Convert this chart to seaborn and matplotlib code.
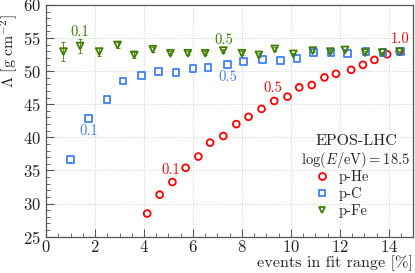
# Lambda vs fraction of events in fit range (EPOS-LHC, log(E/eV)=18.5)
import numpy as np
import pandas as pd
import matplotlib
matplotlib.use("Agg")
import matplotlib.pyplot as plt
from matplotlib.ticker import MultipleLocator
from matplotlib.lines import Line2D
import seaborn as sns

# dados
x_he = [4.13, 4.64, 5.16, 5.70, 6.22, 6.70, 7.24, 7.77, 8.27, 8.80, 9.32, 9.86,
        10.34, 10.85, 11.37, 11.84, 12.46, 12.94, 13.41, 13.93, 14.44]
y_he = [28.5, 31.35, 33.25, 35.4, 37.1, 39.2, 40.2, 42.0, 43.1, 44.3, 45.5, 46.15,
        47.55, 47.9, 49.05, 49.6, 50.2, 50.95, 51.7, 52.55, 52.95]

x_c = [1.01, 1.73, 2.49, 3.14, 3.91, 4.59, 5.31, 6.00, 6.61, 7.40, 8.06, 8.84,
       9.56, 10.25, 10.91, 11.64, 12.32, 13.07, 13.76, 14.47]
y_c = [36.7, 42.8, 45.75, 48.5, 49.3, 50.0, 49.85, 50.45, 50.6, 51.05, 51.5, 51.8,
       51.6, 51.95, 52.8, 52.8, 52.7, 52.95, 52.8, 52.95]

x_fe = [0.71, 1.39, 2.17, 2.92, 3.60, 4.36, 5.08, 5.79, 6.50, 7.24, 8.00, 8.69,
        9.34, 10.10, 10.89, 11.61, 12.21, 13.03, 13.73, 14.44]
y_fe = [52.95, 53.8, 52.95, 53.95, 52.45, 53.3, 52.7, 52.7, 52.7, 53.1, 52.7, 52.45,
        53.35, 52.6, 53.1, 52.95, 53.2, 52.8, 52.8, 52.95]
err_fe = [1.4, 1.0, 0.6, 0.5, 0.4, 0.4, 0.3, 0.3, 0.3, 0.3, 0.3, 0.25,
          0.25, 0.2, 0.2, 0.2, 0.2, 0.2, 0.15, 0.15]

# rotulos (fracao) ao lado dos pontos
lab_he = [(5.08, 35.1, "0.1"), (9.25, 47.4, "0.5"), (14.47, 54.8, "1.0")]
lab_c = [(1.73, 40.9, "0.1"), (7.43, 49.1, "0.5")]
lab_fe = [(1.39, 55.9, "0.1"), (7.27, 54.7, "0.5")]

cores = {"p-He": "#ff0000", "p-C": "#3f7fff", "p-Fe": "#3f7f00"}
marcadores = {"p-He": "o", "p-C": "s", "p-Fe": "v"}

df = pd.concat([
    pd.DataFrame({"x": x_he, "y": y_he, "amostra": "p-He"}),
    pd.DataFrame({"x": x_c, "y": y_c, "amostra": "p-C"}),
    pd.DataFrame({"x": x_fe, "y": y_fe, "amostra": "p-Fe"}),
])

sns.set_style("ticks")
plt.rcParams["font.family"] = "serif"
plt.rcParams["font.serif"] = ["cmr10", "DejaVu Serif"]
plt.rcParams["mathtext.fontset"] = "cm"
plt.rcParams["axes.formatter.use_mathtext"] = True

fig = plt.figure(figsize=(4.15, 2.73), dpi=100)
ax = fig.add_axes([0.111, 0.133, 0.885, 0.849])

# barras de erro do p-Fe
ax.errorbar(x_fe, y_fe, yerr=err_fe, fmt="none", ecolor=cores["p-Fe"],
            elinewidth=0.6, capsize=1.5, capthick=0.6, zorder=2)

for nome in ["p-He", "p-C", "p-Fe"]:
    sub = df[df["amostra"] == nome]
    sns.scatterplot(data=sub, x="x", y="y", ax=ax, marker=marcadores[nome],
                    facecolor="none", edgecolor=cores[nome], linewidth=1.3,
                    s=24, legend=False, zorder=3)

for lista, nome in [(lab_he, "p-He"), (lab_c, "p-C"), (lab_fe, "p-Fe")]:
    for xx, yy, t in lista:
        ax.text(xx, yy, t, color=cores[nome], fontsize=10.5, ha="center", va="center")

ax.set_xlim(0, 15)
ax.set_ylim(25, 60)
ax.xaxis.set_major_locator(MultipleLocator(2))
ax.xaxis.set_minor_locator(MultipleLocator(0.5))
ax.yaxis.set_major_locator(MultipleLocator(5))
ax.yaxis.set_minor_locator(MultipleLocator(1))
ax.tick_params(which="both", direction="in", labelsize=12, color="#555555")
ax.tick_params(which="major", length=6)
ax.tick_params(which="minor", length=3)
ax.tick_params(axis="x", pad=2)
ax.grid(True, which="major", linestyle=":", color="#d0d0d0", linewidth=0.7)
for s in ax.spines.values():
    s.set_color("#555555")
    s.set_linewidth(0.9)

ax.set_xlabel("events in fit range [%]", fontsize=11.7, loc="right", labelpad=0)
ax.set_ylabel(r"$\Lambda\ [\mathrm{g\ cm^{-2}}]$", fontsize=11.5, ha="right")
ax.yaxis.set_label_coords(-0.072, 0.962)

ax.text(0.955, 0.412, "EPOS-LHC", transform=ax.transAxes, fontsize=11.5,
        ha="right", va="center")
ax.text(0.99, 0.332, r"$\log(E/\mathrm{eV}) = 18.5$", transform=ax.transAxes,
        fontsize=10.5, ha="right", va="center")

handles = [Line2D([], [], linestyle="none", marker=marcadores[n], markersize=5,
                  markerfacecolor="none", markeredgecolor=cores[n],
                  markeredgewidth=1.3, label=n) for n in ["p-He", "p-C", "p-Fe"]]
ax.legend(handles=handles, loc="lower left", bbox_to_anchor=(0.685, 0.025),
          frameon=False, fontsize=10.5, handletextpad=0.4, labelspacing=0.2,
          handlelength=1.5)

fig.savefig("out.png", dpi=100)
